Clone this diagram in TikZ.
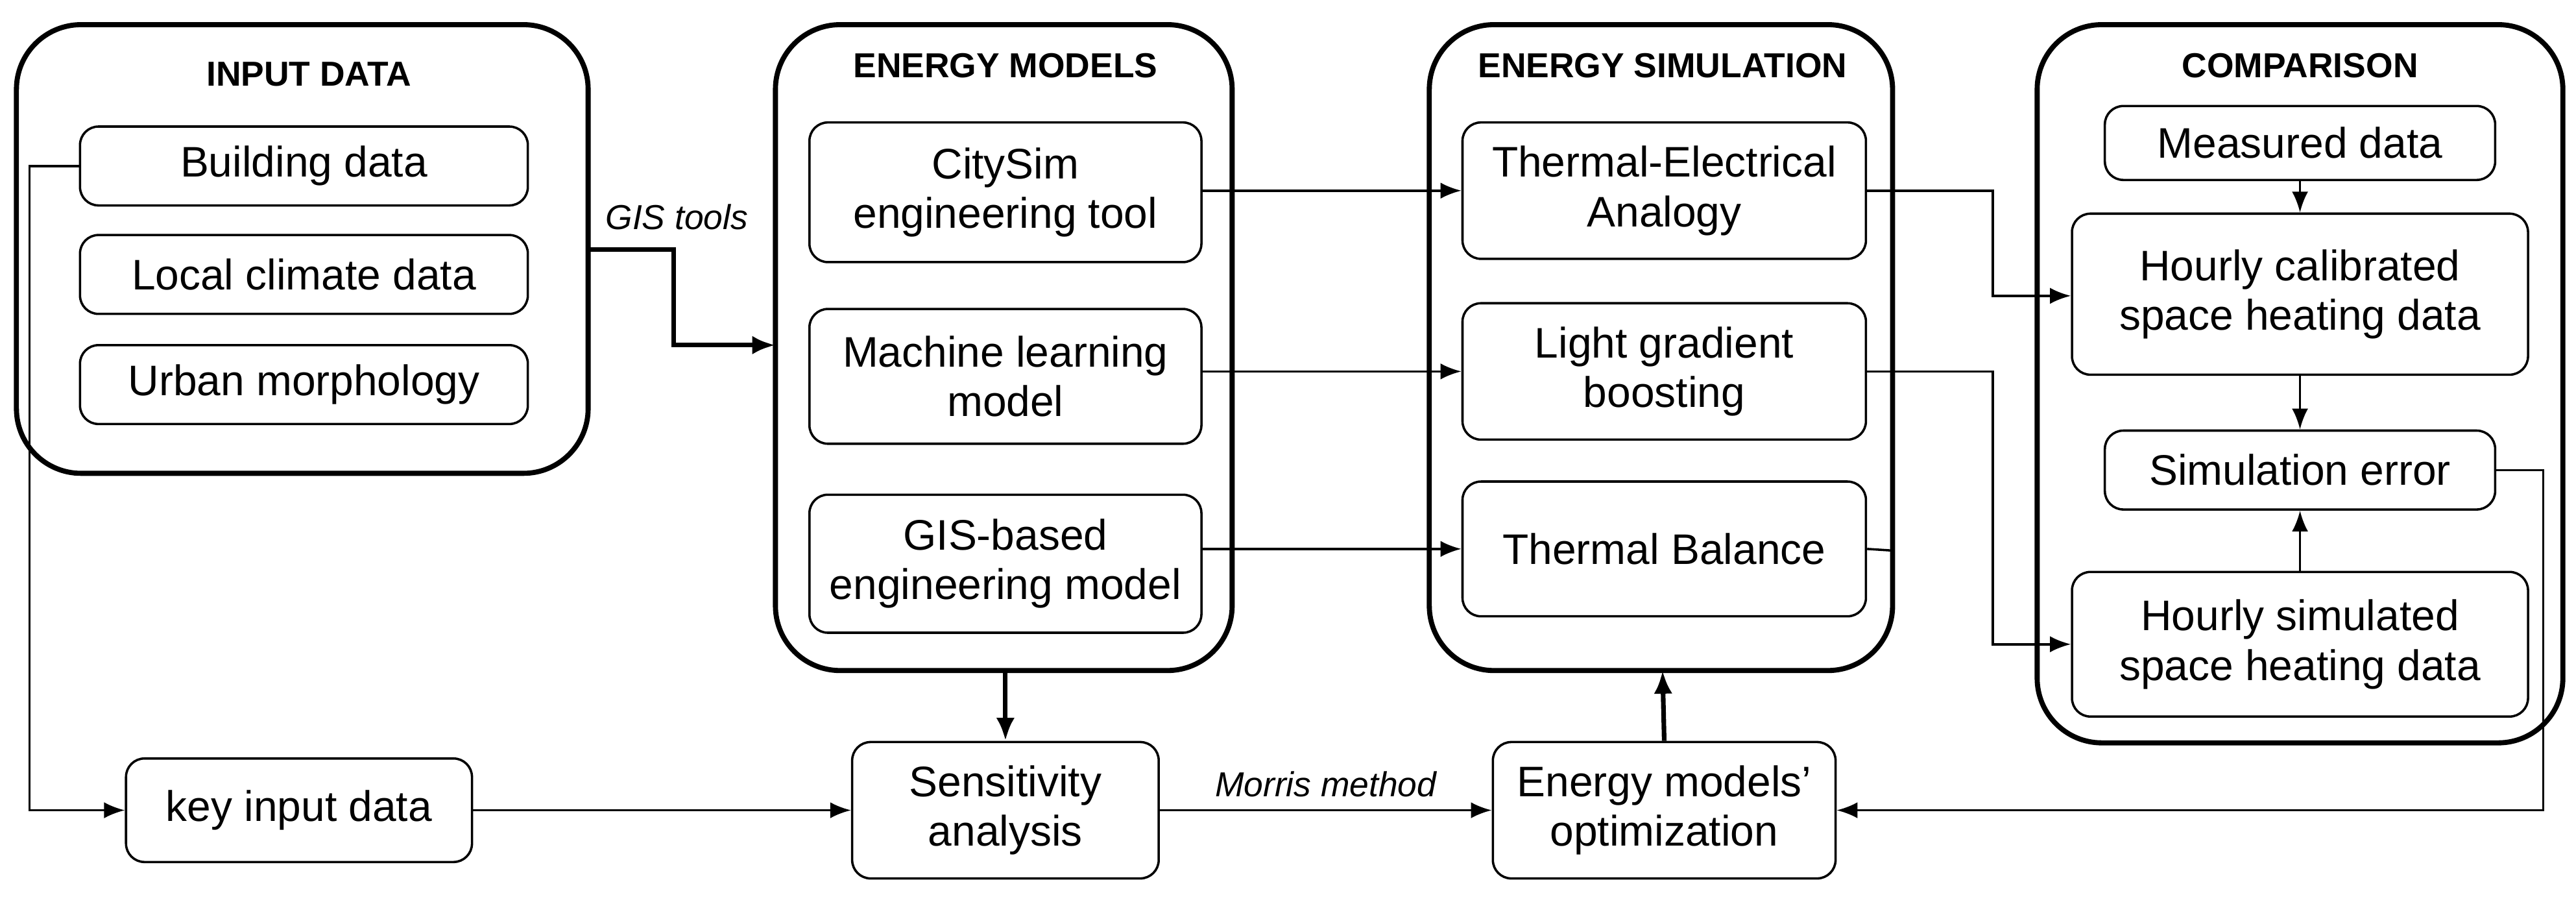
\documentclass[tikz,border=0pt]{standalone}
\usepackage{fontspec}
\setmainfont{Liberation Sans}
\usetikzlibrary{arrows.meta}
\begin{document}
\begin{tikzpicture}[x=0.025cm,y=-0.025cm,
  outer/.style={draw,line width=2.2pt,rounded corners=28pt},
  inner/.style={draw,line width=1pt,rounded corners=8pt,align=center,font=\fontsize{18.5}{21.5}\selectfont},
  ttl/.style={font=\bfseries\fontsize{15}{17}\selectfont},
  lbl/.style={font=\itshape\fontsize{15}{17}\selectfont},
  ar/.style={line width=1pt,-{Latex[length=9pt,width=7pt]}},
  thk/.style={line width=2pt,-{Latex[length=10pt,width=8pt]}}]
\useasboundingbox (0,0) rectangle (1568,550);
\def\bx#1#2#3#4#5#6#7{\node[#1,minimum width=#4*0.025cm-\pgflinewidth,minimum height=#5*0.025cm,inner sep=0pt] (#6) at (#2,#3) {#7};}
% outer boxes
\draw[outer] (10,15) rectangle (358,288); \node[ttl] (tin) at (188,45) {INPUT DATA};
\draw[outer] (472,15) rectangle (750,408); \node[ttl] (tem) at (612,40) {ENERGY MODELS};
\draw[outer] (870,15) rectangle (1152,408); \node[ttl] (tes) at (1012,40) {ENERGY SIMULATION};
\draw[outer] (1240,15) rectangle (1560,452); \node[ttl] (tco) at (1400,40) {COMPARISON};
\coordinate (inR) at (358,152); \coordinate (emL) at (472,210);
\coordinate (emB) at (612,408); \coordinate (esB) at (1012,408); \coordinate (esR) at (1152,335);
% inner
\bx{inner}{185}{101}{274}{48}{bd}{Building data}
\bx{inner}{185}{167}{274}{48}{lc}{Local climate data}
\bx{inner}{185}{234}{274}{48}{um}{Urban morphology}
\bx{inner}{612}{117}{240}{85}{cs}{CitySim\\engineering tool}
\bx{inner}{612}{229}{240}{82}{ml}{Machine learning\\model}
\bx{inner}{612}{343}{240}{84}{gis}{GIS-based\\engineering model}
\bx{inner}{1013}{116}{247}{83}{te}{Thermal-Electrical\\Analogy}
\bx{inner}{1013}{226}{247}{83}{lg}{Light gradient\\boosting}
\bx{inner}{1013}{334}{247}{82}{tb}{Thermal Balance}
\bx{inner}{1400}{87}{239}{45}{md}{Measured data}
\bx{inner}{1400}{179}{279}{98}{hc}{Hourly calibrated\\space heating data}
\bx{inner}{1400}{286}{239}{48}{se}{Simulation error}
\bx{inner}{1400}{392}{279}{88}{hs}{Hourly simulated\\space heating data}
\bx{inner}{182}{493}{212}{63}{ki}{key input data}
\bx{inner}{612}{493}{188}{83}{sa}{Sensitivity\\analysis}
\bx{inner}{1013}{493}{210}{83}{op}{Energy models’\\optimization}
% connectors
\draw[thk] (inR) -- (410,152) -- (410,210) -- (emL);
\node[lbl] (gt) at (412,132) {GIS tools};
\draw[ar] (bd.west) -- (18,101) -- (18,493) -- (ki.west);
\draw[ar] (ki) -- (sa);
\draw[thk] (emB) -- (sa.north);
\draw[ar] (sa) -- node[lbl,above=2pt] (mm) {Morris method} (op);
\draw[thk] (op.north) -- (esB);
\draw[ar] (cs.east|-te.east) -- (te.east-|te.west);
\draw[ar] (ml.east|-lg.east) -- (lg.west);
\draw[ar] (gis.east|-tb.east) -- (tb.west);
\draw[ar] (te.east) -- (1213,116) -- (1213,180) -- (hc.west|-0,180);
\draw[ar] (lg.east) -- (1213,226) -- (1213,392) -- (hs.west);
\draw[line width=1pt] (tb.east) -- (esR);
\draw[ar] (md) -- (hc);
\draw[ar] (hc) -- (se);
\draw[ar] (hs) -- (se);
\draw[ar] (se.east) -- (1548,286) -- (1548,493) -- (op.east);
\end{tikzpicture}
\end{document}
